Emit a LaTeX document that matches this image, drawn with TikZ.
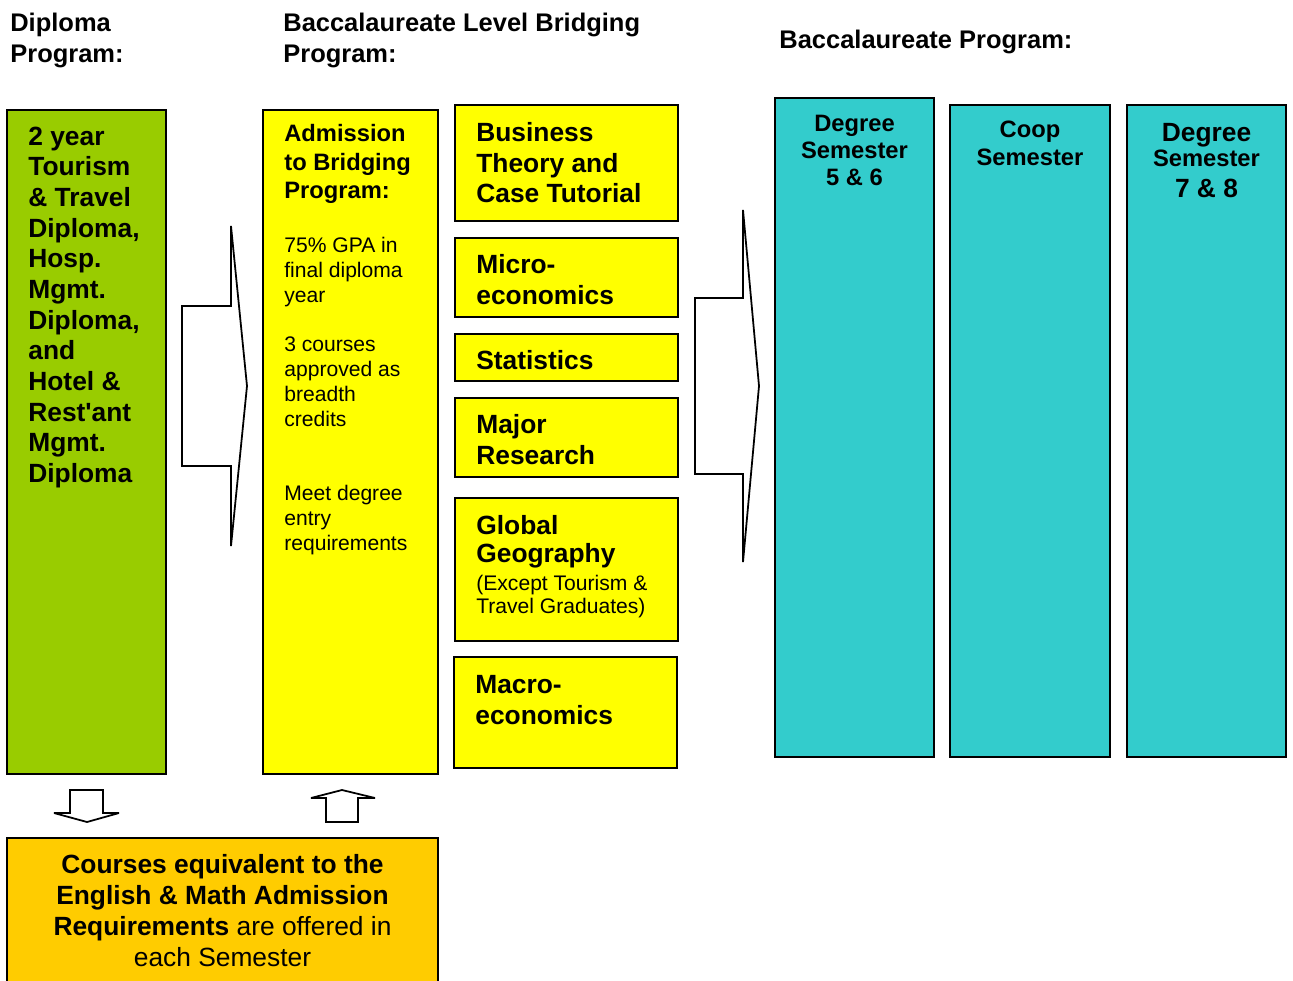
\documentclass[tikz,border=0pt]{standalone}
\usepackage{fontspec}
\setmainfont{Liberation Sans}
\usetikzlibrary{fit}

\definecolor{dipgreen}{HTML}{99CC00}
\definecolor{brgyellow}{HTML}{FFFF00}
\definecolor{bacteal}{HTML}{33CCCC}
\definecolor{engorange}{HTML}{FFCC00}

\begin{document}
\begin{tikzpicture}[x=0.02cm, y=-0.02cm]
    \tikzset{
        box/.style      =   { rectangle
                            , draw=black
                            , line width=1pt
                            , inner sep=0pt
        }
        , txt/.style    =   { anchor=base west
                            , align=left
                            , inner sep=0pt
                            , font=\bfseries\fontsize{15}{17.45}\selectfont
        }
        , head/.style   =   { txt
                            , font=\bfseries\fontsize{14.5}{17.4}\selectfont
        }
        , plain/.style  =   { txt
                            , font=\fontsize{12}{14.1}\selectfont
        }
        , sem/.style    =   { txt
                            , anchor=base
                            , align=center
                            , font=\bfseries\fontsize{13.5}{15.2}\selectfont
        }
        , blockarrow/.style = { draw=black
                            , line width=1pt
                            , fill=white
                            , line join=miter
                            , miter limit=3
        }
    }
    \clip (0,0) rectangle (1293,980);

    % headings (placed at the baseline of their last line)
    \node(hdip)[head] at (10,62.3)  {Diploma\\Program:};
    \node(hbrg)[head] at (283,62.3) {Baccalaureate Level Bridging\\Program:};
    \node(hbac)[head] at (779,48.5) {Baccalaureate Program:};

    % boxes
    \node(dip)[box, fill=dipgreen,  fit={(7,110) (166,774)}]   {};
    \node(adm)[box, fill=brgyellow, fit={(263,110) (438,774)}] {};
    \node(bus)[box, fill=brgyellow, fit={(455,105) (678,221)}] {};
    \node(mic)[box, fill=brgyellow, fit={(455,238) (678,317)}] {};
    \node(sta)[box, fill=brgyellow, fit={(455,334) (678,381)}] {};
    \node(maj)[box, fill=brgyellow, fit={(455,398) (678,477)}] {};
    \node(glo)[box, fill=brgyellow, fit={(455,498) (678,641)}] {};
    \node(mac)[box, fill=brgyellow, fit={(454,657) (677,768)}] {};
    \node(s56)[box, fill=bacteal,   fit={(775,98) (934,757)}]  {};
    \node(coop)[box, fill=bacteal,  fit={(950,105) (1110,757)}] {};
    \node(s78)[box, fill=bacteal,   fit={(1127,105) (1286,757)}] {};
    \node(eng)[box, fill=engorange, fit={(7,838) (438,1000)}]  {};

    % box texts
    \node(diptxt)[txt] at (28,482.4) {2 year\\Tourism\\\& Travel\\Diploma,\\Hosp.\\Mgmt.\\Diploma,\\and\\Hotel \&\\Rest\textquotesingle ant\\Mgmt.\\Diploma};
    \node(admtxt)[txt, font=\bfseries\fontsize{13.5}{16.1}\selectfont] at (284,198.3) {Admission\\to Bridging\\Program:};
    \node(admreq)[plain] at (284,550) {75\% GPA in\\final diploma\\year\\[14.1pt]3 courses\\approved as\\breadth\\credits\\[28.2pt]Meet degree\\entry\\requirements};
    \node(bustxt)[txt] at (476,202.8) {Business\\Theory and\\Case Tutorial};
    \node(mictxt)[txt] at (476,304.2) {Micro-\\economics};
    \node(statxt)[txt] at (476,369.5) {Statistics};
    \node(majtxt)[txt] at (476,464.2) {Major\\Research};
    \node(glotxt)[txt, font=\bfseries\fontsize{15}{15.5}\selectfont] at (476,562.2) {Global\\Geography};
    \node(glonote)[plain, font=\fontsize{12}{13.3}\selectfont] at (476,613.4) {(Except Tourism \&\\Travel Graduates)};
    \node(mactxt)[txt] at (475,724.2) {Macro-\\economics};
    \node(s56txt)[sem] at (854.5,185.1) {Degree\\Semester\\5 \& 6};
    \node(cooptxt)[sem, font=\bfseries\fontsize{13.5}{15.8}\selectfont] at (1030,165.1) {Coop\\Semester};
    \node(s78a)[sem, font=\bfseries\fontsize{15}{15}\selectfont] at (1206.5,141.7) {Degree};
    \node(s78b)[sem] at (1206.5,166) {Semester};
    \node(s78c)[sem, font=\bfseries\fontsize{15}{15}\selectfont] at (1206.5,197) {7 \& 8};
    \node(engtxt)[txt, anchor=base, align=center, font=\fontsize{15}{17.7}\selectfont] at (222.5,966.6)
        {\textbf{Courses equivalent to the}\\\textbf{English \& Math Admission}\\\textbf{Requirements} are offered in\\each Semester};

    % block arrows
    \draw[blockarrow] (182,306) -- (231,306) -- (231,226) -- (247,386)
        -- (231,546) -- (231,466) -- (182,466) -- cycle;
    \draw[blockarrow] (695,298) -- (743,298) -- (743,210) -- (759,386)
        -- (743,562) -- (743,474) -- (695,474) -- cycle;
    \draw[blockarrow] (70,790) -- (103,790) -- (103,813) -- (119,813)
        -- (87,822) -- (54,813) -- (70,813) -- cycle;
    \draw[blockarrow] (326,822) -- (326,798) -- (311,798) -- (342,790)
        -- (375,798) -- (358,798) -- (358,822) -- cycle;
\end{tikzpicture}
\end{document}
